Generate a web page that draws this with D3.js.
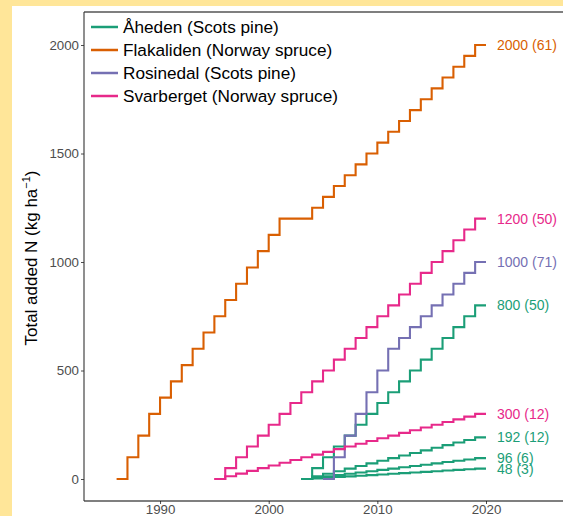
<!DOCTYPE html>
<html>
<head>
<meta charset="utf-8">
<script src="https://cdn.jsdelivr.net/npm/d3@7"></script>
<style>
  html, body { margin: 0; padding: 0; background: #FFE699; }
  svg { display: block; font-family: "Liberation Sans", Arial, Helvetica, sans-serif; }
</style>
</head>
<body>
<svg id="chart" width="563" height="516"></svg>
<script>
// Cumulative N additions per site, one value per year from the start year
const siteNames = ['Åheden (Scots pine)', 'Flakaliden (Norway spruce)', 'Rosinedal (Scots pine)', 'Svarberget (Norway spruce)'];
const siteColors = ['#1B9E77', '#D95F02', '#7570B3', '#E7298A'];

const flakStart = 1986;
const flakValues = [0, 100, 200, 300, 375, 450, 525, 600, 675, 750, 825, 900, 975, 1050, 1125, 1200, 1200, 1200,
  1250, 1300, 1350, 1400, 1450, 1500, 1550, 1600, 1650, 1700, 1750, 1800, 1850, 1900, 1950, 2000, 2000];

const svarStart = 1995;
const svarHigh = [0, 50, 100, 150, 200, 250, 300, 350, 400, 450, 500, 550, 600, 650, 700, 750, 800, 850, 900,
  950, 1000, 1050, 1100, 1150, 1200, 1200];
const svarLow = [0, 12.5, 25, 37.5, 50, 62.5, 75, 87.5, 100, 112.5, 125, 137.5, 150, 162.5, 175, 187.5, 200,
  212.5, 225, 237.5, 250, 262.5, 275, 287.5, 300, 300];

const rosiStart = 2005;
const rosiValues = [0, 100, 200, 300, 400, 500, 600, 650, 700, 750, 800, 850, 900, 950, 1000, 1000];

const ahedStart = 2003;
const ahed800 = [0, 50, 100, 150, 200, 250, 300, 350, 400, 450, 500, 550, 600, 650, 700, 750, 800, 800];
const ahed192 = [0, 12, 24, 36, 48, 60, 72, 84, 96, 108, 120, 132, 144, 156, 168, 180, 192, 192];
const ahed96 = [0, 6, 12, 18, 24, 30, 36, 42, 48, 54, 60, 66, 72, 78, 84, 90, 96, 96];
const ahed48 = [0, 3, 6, 9, 12, 15, 18, 21, 24, 27, 30, 33, 36, 39, 42, 45, 48, 48];

const endLabels = ['2000 (61)', '1200 (50)', '1000 (71)', '800 (50)', '300 (12)', '192 (12)', '96 (6)', '48 (3)'];

const yTicks = [0, 500, 1000, 1500, 2000];
const xTicks = [1990, 2000, 2010, 2020];

// series: [site index, start year, values, end label]
const series = [
  [0, ahedStart, ahed800, endLabels[3]],
  [0, ahedStart, ahed192, endLabels[5]],
  [0, ahedStart, ahed96, endLabels[6]],
  [0, ahedStart, ahed48, endLabels[7]],
  [1, flakStart, flakValues, endLabels[0]],
  [2, rosiStart, rosiValues, endLabels[2]],
  [3, svarStart, svarHigh, endLabels[1]],
  [3, svarStart, svarLow, endLabels[4]]
];

const W = 563, H = 516;
const svg = d3.select('#chart');

// white panel on the yellow page
svg.append('rect').attr('x', 12).attr('y', 6).attr('width', W - 12).attr('height', H - 6).attr('fill', '#fff');

const x = d3.scaleLinear().domain([1983, 2020]).range([84, 486]);
const y = d3.scaleLinear().domain([0, 2000]).range([479, 45]);

const plotTop = 12, plotBottom = 501, plotLeft = 84;

// axes
const yAxis = svg.append('g')
  .attr('transform', `translate(${plotLeft},0)`)
  .call(d3.axisLeft(y).tickValues(yTicks).tickSize(3).tickPadding(2).tickFormat(d3.format('d')));
yAxis.select('.domain').remove();
yAxis.selectAll('.tick line').attr('stroke', '#4d4d4d');
yAxis.selectAll('.tick text').attr('fill', '#4d4d4d').style('font-size', '13.3px');

const xAxis = svg.append('g')
  .attr('transform', `translate(0,${plotBottom})`)
  .call(d3.axisBottom(x).tickValues(xTicks).tickSize(3).tickPadding(1).tickFormat(d3.format('d')));
xAxis.select('.domain').remove();
xAxis.selectAll('.tick line').attr('stroke', '#4d4d4d');
xAxis.selectAll('.tick text').attr('fill', '#4d4d4d').style('font-size', '13.3px');

// frame lines
svg.append('line').attr('x1', plotLeft).attr('x2', W).attr('y1', plotTop).attr('y2', plotTop)
  .attr('stroke', '#000').attr('stroke-width', 1.2);
svg.append('line').attr('x1', plotLeft).attr('x2', W).attr('y1', plotBottom).attr('y2', plotBottom)
  .attr('stroke', '#000').attr('stroke-width', 1.2);
svg.append('line').attr('x1', plotLeft).attr('x2', plotLeft).attr('y1', plotTop).attr('y2', plotBottom)
  .attr('stroke', '#333').attr('stroke-width', 1.1);

// y title
svg.append('text')
  .attr('transform', 'translate(37,258) rotate(-90)')
  .attr('text-anchor', 'middle')
  .style('font-size', '17px')
  .attr('fill', '#000')
  .html('Total added N (kg ha<tspan dy="-7" font-size="11px">\u22121</tspan><tspan dy="7">)</tspan>');

// step lines
const line = d3.line()
  .x(d => x(d.year))
  .y(d => y(d.value))
  .curve(d3.curveStepAfter);

series.forEach(([site, start, values, label]) => {
  const pts = values.map((v, i) => ({ year: start + i, value: v }));
  svg.append('path')
    .datum(pts)
    .attr('d', line)
    .attr('fill', 'none')
    .attr('stroke', siteColors[site])
    .attr('stroke-width', 2.1)
    .attr('stroke-linejoin', 'miter');

  const last = pts[pts.length - 1];
  svg.append('text')
    .attr('x', x(last.year) + 11)
    .attr('y', y(last.value))
    .attr('dy', '0.36em')
    .attr('fill', siteColors[site])
    .style('font-size', '14px')
    .text(label);
});

// legend
const legend = svg.append('g');
siteNames.forEach((name, i) => {
  const ly = 27 + i * 23;
  legend.append('line')
    .attr('x1', 91).attr('x2', 118).attr('y1', ly).attr('y2', ly)
    .attr('stroke', siteColors[i]).attr('stroke-width', 2.5);
  legend.append('text')
    .attr('x', 123).attr('y', ly).attr('dy', '0.36em')
    .style('font-size', '17.2px')
    .attr('fill', '#000')
    .text(name);
});
</script>
</body>
</html>
